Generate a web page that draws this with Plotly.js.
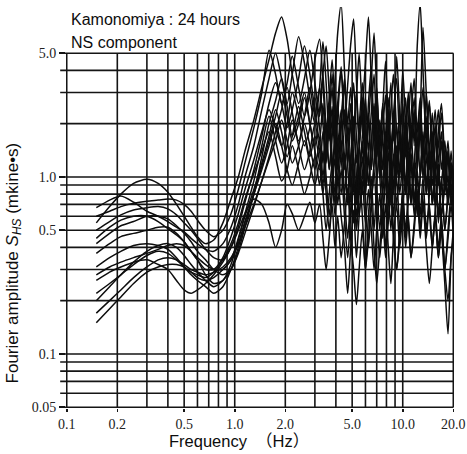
<!DOCTYPE html>
<html>
<head>
<meta charset="utf-8">
<script src="https://cdn.plot.ly/plotly-3.0.1.min.js"></script>
<style>html,body{margin:0;padding:0;background:#fff;}#chart{width:467px;height:454px;}</style>
</head>
<body>
<div id="chart"></div>
<script>
// Frequency samples (Hz)
const freqLow = [0.15,0.18,0.21,0.25,0.3,0.35,0.4,0.45,0.5,0.55,0.6,0.67,0.75,0.85,0.95,1.05,1.15,1.3,1.45,1.6,1.75,1.9,2.05,2.2,2.4,2.6,2.8,3.0];
const freqHigh = [3.2,3.35,3.5,3.65,3.8,3.95,4.1,4.3,4.5,4.7,4.9,5.1,5.3,5.5,5.75,6.0,6.25,6.5,6.75,7.0,7.3,7.6,7.9,8.2,8.5,8.8,9.2,9.6,10.0,10.4,10.8,11.2,11.7,12.2,12.7,13.2,13.8,14.4,15.0,15.6,16.3,17.0,17.8,18.6,19.4,20.0];

// Fourier amplitude S_HS (mkine*s), one array per hourly record
const amp01 = [0.55,0.68,0.8,0.92,0.97,0.92,0.82,0.7,0.6,0.52,0.46,0.42,0.44,0.55,0.75,1.0,1.4,2.1,3.2,4.6,6.5,8.0,6.0,3.8,2.6,3.6,5.2,3.4,
  2.2,3.8,5.5,3.0,1.8,3.5,6.5,9.5,4.0,2.0,3.2,1.6,2.8,5.0,2.2,1.2,2.6,4.2,1.8,3.0,1.4,2.4,4.5,2.0,1.1,2.2,3.6,1.6,2.6,1.3,2.0,3.4,1.5,5.5,9.5,4.0,1.8,2.6,1.2,2.0,0.9,1.6,0.8,1.3,0.7,1.0];
const amp02 = [0.67,0.74,0.78,0.72,0.64,0.6,0.56,0.52,0.49,0.45,0.42,0.39,0.38,0.42,0.52,0.7,1.0,1.5,2.4,3.6,5.0,3.6,2.6,3.8,6.2,4.4,2.8,2.0,
  3.2,5.8,3.4,1.6,2.5,1.3,2.2,4.0,1.9,3.3,5.6,7.8,3.5,1.7,2.8,1.4,2.3,1.1,1.9,3.2,1.5,2.6,1.2,2.0,3.4,1.6,4.8,2.2,1.2,2.0,1.0,1.7,2.8,1.3,2.2,7.0,3.0,1.4,2.3,1.1,1.8,2.6,1.2,0.8,1.4,0.9];
const amp03 = [0.6,0.64,0.68,0.71,0.73,0.74,0.75,0.74,0.7,0.64,0.57,0.5,0.46,0.5,0.62,0.85,1.2,1.9,3.0,5.2,3.8,2.6,3.4,4.8,3.2,2.2,3.0,4.6,
  6.0,3.4,1.8,2.8,4.6,2.4,1.3,2.1,3.6,1.7,1.0,1.8,3.0,1.5,2.5,4.4,8.0,3.5,1.6,2.6,1.2,0.8,1.4,2.4,1.1,1.9,1.0,1.6,4.0,2.0,1.1,1.8,1.0,1.5,2.6,1.2,3.0,1.4,0.9,1.5,2.4,1.1,1.6,0.9,1.2,0.8];
const amp04 = [0.5,0.56,0.61,0.65,0.67,0.68,0.66,0.61,0.55,0.5,0.45,0.39,0.35,0.34,0.4,0.52,0.72,1.1,1.7,2.6,3.4,2.6,1.9,2.4,3.6,5.5,3.8,2.4,
  1.6,2.6,1.3,2.2,3.8,1.8,1.1,1.9,3.3,1.6,2.6,1.3,0.8,1.4,2.4,1.2,2.0,3.6,6.5,3.0,1.5,2.5,1.2,0.7,1.3,2.2,1.1,1.8,1.0,1.6,2.8,1.4,2.3,1.1,1.8,1.0,1.6,2.7,1.3,0.7,1.2,0.6,1.0,1.6,0.8,1.1];
const amp05 = [0.45,0.52,0.57,0.6,0.6,0.56,0.51,0.47,0.43,0.38,0.34,0.3,0.3,0.35,0.46,0.62,0.85,1.25,1.8,2.4,1.9,1.5,2.0,3.0,2.2,1.5,1.9,2.8,
  1.9,1.2,2.0,1.1,1.7,2.9,1.4,0.8,1.3,0.7,1.2,2.0,1.0,0.6,1.0,1.8,0.9,1.5,2.6,1.3,2.1,1.1,1.8,0.9,0.5,0.9,1.5,0.8,1.3,2.2,1.1,0.7,1.2,2.0,1.0,1.6,0.8,1.3,0.7,1.1,0.55,0.9,1.4,0.7,1.1,0.6];
const amp06 = [0.42,0.48,0.53,0.56,0.6,0.6,0.58,0.53,0.48,0.43,0.38,0.34,0.3,0.28,0.3,0.38,0.52,0.8,1.3,2.0,2.7,3.6,2.5,1.7,2.2,3.0,2.0,1.4,
  1.1,1.8,1.0,0.6,1.0,1.7,0.9,1.4,2.4,1.2,0.6,1.0,0.5,0.9,1.5,0.8,1.3,0.7,1.2,2.0,1.0,1.7,0.9,1.4,0.7,1.2,2.0,1.0,1.6,0.8,1.4,0.7,1.2,0.6,1.0,1.8,0.9,1.4,0.7,1.2,0.6,1.0,0.5,0.8,1.2,0.7];
const amp07 = [0.37,0.42,0.46,0.48,0.5,0.52,0.52,0.48,0.43,0.38,0.34,0.28,0.25,0.26,0.32,0.44,0.62,0.95,1.5,2.2,1.6,1.2,1.5,2.1,1.5,1.1,1.4,2.0,
  1.4,0.9,1.4,2.2,1.1,0.6,1.0,1.6,0.8,0.45,0.8,1.3,0.7,1.1,0.6,0.3,0.6,1.0,0.5,0.9,1.5,0.8,0.4,0.7,1.2,0.6,1.0,0.5,0.9,1.5,0.8,1.3,0.7,1.1,0.6,1.0,0.5,0.8,1.4,0.7,0.4,0.6,0.3,0.5,0.8,0.5];
const amp08 = [0.31,0.35,0.38,0.41,0.42,0.41,0.39,0.35,0.31,0.29,0.28,0.27,0.29,0.34,0.42,0.55,0.75,1.05,1.4,1.8,1.3,0.95,1.1,1.5,1.1,0.8,1.0,1.3,
  0.9,1.4,0.8,0.5,0.8,1.3,0.7,1.1,0.6,0.35,0.6,0.9,0.5,0.8,1.3,0.7,0.4,0.7,1.1,0.6,0.35,0.6,1.0,0.55,0.9,0.5,0.3,0.5,0.8,0.45,0.75,1.2,0.6,1.0,0.5,0.8,1.3,0.65,0.4,0.65,1.0,0.5,0.25,0.13,0.35,0.5];
const amp09 = [0.28,0.31,0.33,0.35,0.37,0.39,0.41,0.42,0.41,0.38,0.35,0.32,0.3,0.3,0.34,0.42,0.56,0.8,1.1,1.5,2.0,1.5,1.1,0.9,1.2,1.6,1.2,0.9,
  1.2,0.8,0.5,0.8,1.2,0.7,1.0,0.6,0.4,0.22,0.4,0.65,0.35,0.6,0.95,0.55,0.85,0.5,0.3,0.5,0.8,0.45,0.7,0.4,0.25,0.45,0.7,0.4,0.65,1.0,0.55,0.35,0.55,0.85,0.5,0.75,0.45,0.7,0.4,0.6,0.35,0.55,0.3,0.45,0.7,0.45];
const amp10 = [0.26,0.29,0.31,0.33,0.34,0.32,0.3,0.26,0.23,0.22,0.23,0.25,0.28,0.33,0.4,0.5,0.62,0.75,0.7,0.55,0.4,0.5,0.7,0.62,0.5,0.6,0.72,0.55,
  0.7,0.45,0.3,0.45,0.7,0.4,0.6,0.35,0.55,0.85,0.45,0.3,0.19,0.3,0.5,0.3,0.45,0.7,0.4,0.25,0.4,0.6,0.35,0.55,0.8,0.45,0.3,0.45,0.7,0.4,0.6,0.35,0.5,0.8,0.45,0.7,0.4,0.25,0.4,0.6,0.35,0.5,0.3,0.2,0.35,0.45];
const amp11 = [0.22,0.25,0.28,0.32,0.36,0.38,0.37,0.34,0.31,0.28,0.26,0.24,0.22,0.24,0.3,0.4,0.55,0.8,1.15,1.6,2.2,3.0,2.2,1.6,2.0,2.8,2.0,1.5,
  2.4,3.8,1.8,1.1,1.8,2.8,1.5,2.4,1.3,0.8,1.3,2.2,1.2,1.9,3.4,1.6,0.9,1.5,2.5,1.3,2.0,1.1,1.7,2.8,1.4,0.8,1.3,2.2,1.1,1.8,3.0,1.5,2.4,1.2,1.9,3.2,1.5,0.9,1.5,2.4,1.2,1.8,0.9,1.4,0.8,1.1];
const amp12 = [0.2,0.24,0.28,0.33,0.38,0.41,0.42,0.4,0.36,0.32,0.29,0.26,0.24,0.26,0.3,0.37,0.48,0.68,0.95,1.3,1.8,2.4,3.2,2.3,1.6,2.2,3.2,2.2,
  3.2,2.0,1.2,2.0,3.2,1.6,2.6,4.2,2.0,1.2,2.0,3.4,1.7,1.0,1.7,2.8,1.4,2.3,3.8,1.8,1.1,1.8,2.9,1.5,2.4,3.8,1.8,1.1,1.8,2.8,1.4,2.2,3.6,1.8,2.8,1.4,2.2,1.1,1.8,1.0,1.5,2.3,1.1,0.7,1.1,0.8];
const amp13 = [0.17,0.2,0.23,0.27,0.31,0.34,0.35,0.34,0.32,0.3,0.29,0.28,0.29,0.31,0.35,0.42,0.52,0.7,0.95,1.25,1.6,2.1,1.6,1.2,1.5,2.0,1.5,1.1,
  1.6,1.0,1.6,2.6,1.3,0.8,1.3,2.1,1.1,1.8,0.9,0.55,0.9,1.5,0.8,1.3,2.2,1.1,1.8,0.9,0.5,0.9,1.4,0.8,1.2,2.0,1.0,1.6,0.85,0.5,0.85,1.4,0.75,1.2,2.0,1.0,1.6,0.8,1.3,0.7,1.1,0.6,0.9,1.4,0.7,0.9];
const amp14 = [0.15,0.18,0.21,0.25,0.29,0.31,0.32,0.32,0.31,0.29,0.27,0.26,0.27,0.3,0.34,0.45,0.6,0.85,1.2,1.7,2.4,1.8,1.3,1.7,2.5,1.8,1.3,1.7,
  1.2,0.8,1.3,2.0,1.0,1.6,2.6,1.3,0.8,1.3,2.1,1.0,0.6,1.0,1.6,0.85,1.4,0.75,1.2,1.9,1.0,0.6,1.0,1.6,0.85,1.35,0.7,1.1,1.8,0.9,1.4,0.75,1.2,0.65,1.0,1.6,0.8,1.3,0.7,1.1,0.6,0.95,0.5,0.8,1.2,0.9];

const xTickVals = [0.1,0.2,0.5,1,2,5,10,20];
const xTickText = ['0.1','0.2','0.5','1.0','2.0','5.0','10.0','20.0'];
const yTickVals = [0.05,0.1,0.5,1,5];
const yTickText = ['0.05','0.1','0.5','1.0','5.0'];
const vGrid = [0.1,0.2,0.3,0.4,0.5,0.6,0.7,0.8,0.9,1,2,3,4,5,6,7,8,9,10,20];
const hGrid = [0.05,0.06,0.07,0.08,0.09,0.1,0.2,0.3,0.4,0.5,0.6,0.7,0.8,0.9,1,2,3,4,5];

const freqAll = freqLow.concat(freqHigh);
const series = [amp01,amp02,amp03,amp04,amp05,amp06,amp07,amp08,amp09,amp10,amp11,amp12,amp13,amp14];
const traces = series.map(a => {
  const n = Math.min(a.length, freqAll.length);
  return {x: freqAll.slice(0,n), y: a.slice(0,n), type:'scatter', mode:'lines',
          line:{color:'#0d0d0d', width:1.5, shape:'spline', smoothing:0.7}, hoverinfo:'skip', showlegend:false};
});

const gridColor = '#151515';
const shapes = [];
vGrid.forEach(v => shapes.push({type:'line', xref:'x', yref:'y', x0:v, x1:v, y0:0.05, y1:5, layer:'below', line:{color:gridColor, width:1.6}}));
hGrid.forEach(v => shapes.push({type:'line', xref:'paper', yref:'y', x0:-0.015, x1:0.9985, y0:v, y1:v, layer:'below', line:{color:gridColor, width:1.6}}));

const baseFont = {family:'Liberation Sans, Arial, sans-serif', color:'#0d0d0d'};
const layout = {
  width:467, height:454,
  margin:{l:66, r:13, t:7, b:46, pad:0},
  paper_bgcolor:'#fff', plot_bgcolor:'#fff',
  xaxis:{type:'log', range:[-1.00436, 1.30514], tickvals:xTickVals, ticktext:xTickText,
         showgrid:false, zeroline:false, showline:false, ticks:'outside', ticklen:3, tickwidth:1.6, tickcolor:gridColor,
         tickfont:{family:'Liberation Serif, serif', size:14, color:'#222'}},
  yaxis:{type:'log', range:[Math.log10(0.0495), Math.log10(0.0495)+401/177], tickvals:yTickVals, ticktext:yTickText,
         showgrid:false, zeroline:false, showline:false, ticks:'outside', ticklen:6, tickwidth:1.6, tickcolor:gridColor,
         tickfont:{family:'Liberation Serif, serif', size:14, color:'#222'}},
  shapes:shapes,
  annotations:[
    {xref:'paper', yref:'paper', x:0.008, y:0.9676, xanchor:'left', yanchor:'middle', showarrow:false,
     text:'Kamonomiya : 24 hours', font:Object.assign({size:16}, baseFont)},
    {xref:'paper', yref:'paper', x:0.008, y:0.9127, xanchor:'left', yanchor:'middle', showarrow:false,
     text:'NS component', font:Object.assign({size:16}, baseFont)},
    {xref:'paper', yref:'paper', x:-0.135, y:0.362, xanchor:'center', yanchor:'middle', showarrow:false, textangle:-90,
     text:'Fourier amplitude <i>S<sub>HS</sub></i> (mkine•s)', font:Object.assign({size:17}, baseFont)},
    {xref:'paper', yref:'paper', x:0.447, y:-0.082, xanchor:'center', yanchor:'middle', showarrow:false,
     text:'Frequency  （Hz）', font:{family:'Liberation Sans, Noto Sans CJK JP, sans-serif', size:16.5, color:'#0d0d0d'}}
  ]
};
Plotly.newPlot('chart', traces, layout, {staticPlot:true, displayModeBar:false});
</script>
</body>
</html>
